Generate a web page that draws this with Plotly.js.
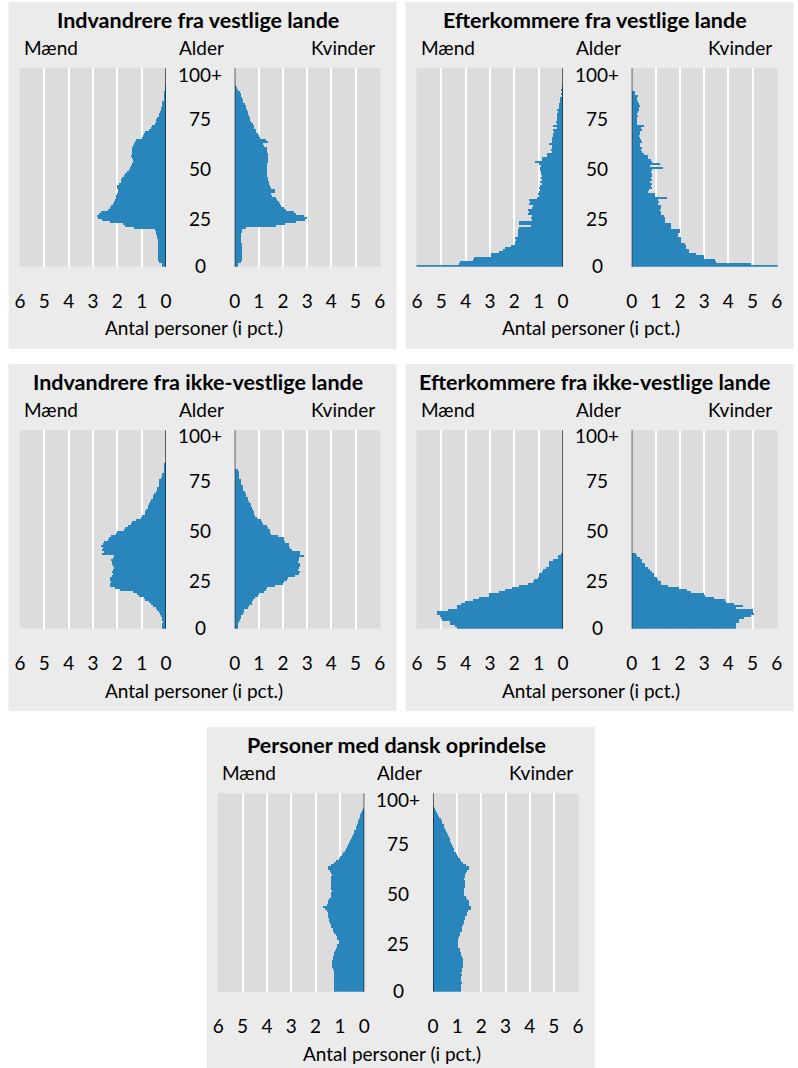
<!DOCTYPE html>
<html><head><meta charset="utf-8">
<script src="https://cdn.plot.ly/plotly-3.0.1.min.js"></script>
<style>html,body{margin:0;padding:0;background:#fff}#chart{width:798px;height:1068px}</style>
</head><body><div id="chart"></div>
<script>
// ---------- text ----------
const panelTitles = [
  "Indvandrere fra vestlige lande",
  "Efterkommere fra vestlige lande",
  "Indvandrere fra ikke-vestlige lande",
  "Efterkommere fra ikke-vestlige lande",
  "Personer med dansk oprindelse"
];
const menLabel = "Mænd", womenLabel = "Kvinder", ageLabel = "Alder";
const axisTitle = "Antal personer (i pct.)";
const ageTickText = ["0", "25", "50", "75", "100+"];
const ageTickVals = [0, 23.7, 48.7, 73.7, 95.85];
const xTickVals = [0, 1, 2, 3, 4, 5, 6];
const xTickText = ["0", "1", "2", "3", "4", "5", "6"];

// ---------- data: share of persons (pct.) by age 0..100 ----------
const indVestMen = [0.16,0.15,0.30,0.32,0.33,0.33,0.34,0.33,0.34,0.33,0.34,0.33,0.34,0.33,0.35,0.38,0.40,0.42,0.45,1.30,
  1.70,1.75,2.30,2.62,2.80,2.82,2.75,2.66,2.40,2.32,2.26,2.18,2.12,2.08,2.05,2.07,2.00,1.98,1.97,2.02,
  2.03,1.92,1.86,1.84,1.80,1.72,1.70,1.60,1.52,1.46,1.42,1.38,1.34,1.35,1.40,1.42,1.40,1.38,1.41,1.38,
  1.36,1.30,1.28,1.22,1.00,0.96,0.90,0.85,0.70,0.60,0.56,0.46,0.42,0.40,0.37,0.30,0.28,0.25,0.22,0.20,
  0.18,0.16,0.15,0.10,0.09,0.08,0.08,0.07,0.06,0.04,0.03];
const indVestWomen = [0.12,0.15,0.28,0.30,0.32,0.31,0.32,0.31,0.30,0.31,0.30,0.29,0.28,0.27,0.26,0.26,0.27,0.29,0.32,0.45,
  1.70,2.10,2.55,2.90,3.00,2.85,2.52,2.45,2.12,2.02,1.93,1.88,1.85,1.75,1.70,1.55,1.50,1.68,1.65,1.50,
  1.45,1.42,1.40,1.39,1.38,1.35,1.33,1.32,1.34,1.33,1.35,1.34,1.36,1.38,1.39,1.37,1.36,1.35,1.34,1.32,
  1.20,1.18,1.36,1.30,1.05,1.00,0.98,0.90,0.88,0.80,0.78,0.75,0.68,0.65,0.62,0.58,0.56,0.54,0.52,0.48,
  0.45,0.42,0.36,0.34,0.32,0.28,0.25,0.20,0.15,0.10,0.05];
const eftVestMen = [6.15,4.27,4.25,3.68,3.65,2.96,2.95,2.63,2.45,2.38,2.14,1.97,1.98,1.95,1.97,1.86,1.85,1.84,1.84,1.82,
  1.30,1.80,1.80,1.29,1.30,1.28,1.42,1.40,1.44,1.26,1.25,1.38,1.36,1.38,1.08,1.00,1.02,0.98,0.95,0.97,
  0.93,0.88,0.95,0.86,0.90,0.88,0.92,0.90,0.96,0.95,0.92,0.98,1.15,0.88,0.88,0.66,0.66,0.47,0.48,0.46,
  0.47,0.58,0.45,0.44,0.46,0.42,0.40,0.38,0.40,0.26,0.40,0.26,0.28,0.25,0.26,0.25,0.25,0.22,0.24,0.16,
  0.17,0.15,0.14,0.13,0.14,0.05,0.08,0.05,0.08,0.06,0.04];
const eftVestWomen = [6.16,4.93,3.49,3.45,3.01,2.98,2.67,2.36,2.35,2.26,2.25,2.19,2.05,2.04,2.05,1.92,1.92,1.99,1.98,1.64,
  1.63,1.62,1.37,1.36,1.38,1.35,1.20,1.22,1.18,1.23,1.22,1.10,1.12,1.08,1.48,0.96,0.95,0.68,0.70,0.82,
  0.80,0.82,0.75,0.82,0.80,0.82,0.84,0.80,0.82,1.30,0.75,1.16,0.82,0.80,0.68,0.66,0.50,0.44,0.40,0.44,
  0.34,0.36,0.44,0.40,0.34,0.30,0.36,0.34,0.41,0.40,0.49,0.20,0.22,0.20,0.21,0.27,0.20,0.28,0.30,0.32,
  0.34,0.32,0.25,0.22,0.20,0.25,0.15,0.14];
const indIkkeMen = [0.15,0.18,0.15,0.14,0.15,0.16,0.22,0.25,0.28,0.36,0.40,0.55,0.62,0.68,0.85,0.92,1.10,1.18,1.35,1.90,
  2.10,2.30,2.32,2.28,2.30,2.31,2.22,2.18,2.20,2.16,2.12,2.18,2.20,2.22,2.24,2.16,2.14,2.62,2.55,2.64,
  2.60,2.66,2.58,2.56,2.40,2.35,2.26,2.05,2.00,1.72,1.70,1.58,1.42,1.40,1.25,1.02,0.98,0.88,0.86,0.84,
  0.75,0.73,0.71,0.64,0.60,0.54,0.52,0.50,0.40,0.38,0.36,0.30,0.29,0.28,0.27,0.19,0.18,0.17,0.10,0.09,
  0.08,0.08,0.07];
const indIkkeWomen = [0.14,0.14,0.15,0.16,0.22,0.25,0.27,0.35,0.38,0.40,0.55,0.60,0.70,0.73,0.75,0.86,0.98,1.02,1.22,1.28,
  1.35,1.68,2.00,2.05,2.18,2.22,2.48,2.66,2.70,2.62,2.66,2.70,2.72,2.62,2.65,2.64,2.88,2.72,2.70,2.38,
  2.30,2.26,2.24,2.08,2.06,2.04,1.80,1.50,1.48,1.46,1.36,1.33,1.18,1.14,1.10,0.94,0.82,0.80,0.78,0.76,
  0.70,0.68,0.66,0.58,0.56,0.54,0.46,0.45,0.44,0.35,0.34,0.33,0.26,0.25,0.24,0.19,0.18,0.17,0.16,0.15];
const eftIkkeMen = [4.34,4.44,4.64,4.66,4.99,5.00,5.05,5.16,5.18,4.74,4.37,4.36,4.19,4.03,3.68,3.45,3.05,3.03,2.62,2.38,
  2.11,1.81,1.45,1.22,1.20,1.04,0.99,0.98,0.85,0.84,0.71,0.58,0.57,0.56,0.40,0.22,0.20,0.08];
const eftIkkeWomen = [4.32,4.32,4.33,4.45,4.45,4.66,4.93,5.07,5.00,5.00,4.32,4.59,4.25,3.90,3.84,3.42,3.02,3.00,2.47,2.30,
  1.95,1.51,1.23,1.22,1.10,1.03,0.93,0.92,0.82,0.75,0.66,0.55,0.54,0.44,0.43,0.34,0.20,0.19];
const danskMen = [1.24,1.24,1.23,1.24,1.25,1.24,1.23,1.24,1.25,1.26,1.25,1.27,1.32,1.33,1.32,1.33,1.30,1.27,1.25,1.24,
  1.22,1.16,1.14,1.12,1.05,1.03,1.12,1.14,1.16,1.25,1.28,1.30,1.36,1.38,1.40,1.45,1.47,1.50,1.48,1.50,
  1.52,1.62,1.68,1.55,1.50,1.48,1.45,1.38,1.36,1.35,1.34,1.35,1.37,1.38,1.38,1.36,1.35,1.35,1.34,1.36,
  1.40,1.48,1.50,1.38,1.25,1.18,1.05,0.98,0.92,0.88,0.80,0.76,0.72,0.68,0.64,0.60,0.56,0.52,0.47,0.44,
  0.41,0.36,0.33,0.30,0.26,0.24,0.21,0.18,0.16,0.12,0.08,0.05];
const danskWomen = [1.17,1.17,1.16,1.17,1.18,1.17,1.16,1.17,1.18,1.17,1.18,1.22,1.25,1.26,1.25,1.26,1.24,1.20,1.17,1.15,
  1.12,1.10,1.04,1.02,1.03,1.02,1.04,1.08,1.11,1.12,1.18,1.21,1.22,1.26,1.28,1.29,1.31,1.33,1.40,1.42,
  1.45,1.56,1.58,1.50,1.48,1.47,1.40,1.38,1.28,1.28,1.29,1.30,1.31,1.31,1.32,1.31,1.30,1.31,1.32,1.38,
  1.40,1.48,1.50,1.36,1.25,1.17,1.12,1.02,1.00,0.95,0.88,0.86,0.84,0.80,0.76,0.72,0.69,0.66,0.60,0.58,
  0.55,0.50,0.47,0.44,0.38,0.36,0.32,0.26,0.22,0.18,0.14,0.10,0.05];

const menSeries = [indVestMen, eftVestMen, indIkkeMen, eftIkkeMen, danskMen];
const womenSeries = [indVestWomen, eftVestWomen, indIkkeWomen, eftIkkeWomen, danskWomen];

// ---------- layout geometry (pixels) ----------
const W = 798, H = 1068;
const FONT = 'Lato, "Open Sans", sans-serif';
const BAR = '#2886bc';
const offsets = [[0, 0], [397, 0], [0, 362], [397, 362], [198.3, 725]];
const px = v => v / W, py = v => 1 - v / H;

const data = [];
const layout = {
  width: W, height: H,
  margin: {l: 0, r: 0, t: 0, b: 0},
  paper_bgcolor: '#ffffff', plot_bgcolor: 'rgba(0,0,0,0)',
  showlegend: false, bargap: 0,
  font: {family: FONT, size: 19, color: '#000'},
  shapes: [], annotations: []
};

offsets.forEach(([ox, oy], p) => {
  const iM = 2 * p + 1, iW = 2 * p + 2;
  const sfx = i => (i === 1 ? '' : String(i));
  const yDom = [py(266.7 + oy), py(68.3 + oy)];
  const menDom = [px(19.5 + ox), px(166 + ox)];
  const womenDom = [px(234.7 + ox), px(380.7 + ox)];
  // panel background
  layout.shapes.push({type: 'rect', xref: 'paper', yref: 'paper', layer: 'below',
    x0: px(8.5 + ox), x1: px(396.5 + ox), y0: py(Math.min(349 + oy, H)), y1: py(2 + oy),
    fillcolor: '#ebebeb', line: {width: 0}});
  // plot-area backgrounds
  [menDom, womenDom].forEach(d => layout.shapes.push({type: 'rect', xref: 'paper', yref: 'paper',
    layer: 'below', x0: d[0], x1: d[1], y0: yDom[0], y1: yDom[1], fillcolor: '#dcdcdc', line: {width: 0}}));
  const xCommon = {
    tickvals: xTickVals, ticktext: xTickText, showgrid: true, gridcolor: '#ffffff', gridwidth: 2,
    zeroline: false, showline: false, ticks: 'outside', ticklen: 17, tickcolor: 'rgba(0,0,0,0)',
    tickfont: {family: FONT, size: 19, color: '#000'}, fixedrange: true
  };
  layout['xaxis' + sfx(iM)] = Object.assign({}, xCommon, {domain: menDom, range: [6.02, 0], anchor: 'y' + sfx(iM)});
  layout['xaxis' + sfx(iW)] = Object.assign({}, xCommon, {domain: womenDom, range: [0, 6.04], anchor: 'y' + sfx(iW)});
  [iM, iW].forEach(i => {
    layout['yaxis' + sfx(i)] = {domain: yDom, range: [-0.5, 98.7], anchor: 'x' + sfx(i),
      showticklabels: false, showgrid: false, zeroline: false, ticks: '', fixedrange: true};
    layout.shapes.push({type: 'line', xref: 'x' + sfx(i), yref: 'y' + sfx(i) + ' domain',
      x0: 0, x1: 0, y0: 0, y1: 1, line: {color: '#1a1a1a', width: 1.3}, layer: 'above'});
  });
  const ages = arr => arr.map((_, a) => a);
  data.push({type: 'bar', orientation: 'h', x: menSeries[p], y: ages(menSeries[p]),
    xaxis: 'x' + sfx(iM), yaxis: 'y' + sfx(iM), marker: {color: BAR, line: {width: 0}},
    hoverinfo: 'skip', cliponaxis: false});
  data.push({type: 'bar', orientation: 'h', x: womenSeries[p], y: ages(womenSeries[p]),
    xaxis: 'x' + sfx(iW), yaxis: 'y' + sfx(iW), marker: {color: BAR, line: {width: 0}},
    hoverinfo: 'skip', cliponaxis: false});

  const ann = (text, x, y, xanchor, extra) => layout.annotations.push(Object.assign({
    text, x: px(x + ox), y: py(y + oy), xref: 'paper', yref: 'paper', xanchor, yanchor: 'middle',
    showarrow: false, font: {family: FONT, size: 19, color: '#000'}}, extra || {}));
  ann('<b>' + panelTitles[p] + '</b>', 198, 20, 'center', {font: {family: FONT, size: 21.5, color: '#000'}});
  ann(menLabel, 22, 47, 'left');
  ann(ageLabel, 201, 47, 'center');
  ann(womenLabel, 376.5, 47, 'right');
  ann(axisTitle, 194, 328, 'center');
  ageTickText.forEach((t, k) => layout.annotations.push({
    text: t, x: px(200 + ox), xref: 'paper', y: ageTickVals[k], yref: 'y' + sfx(iW),
    xanchor: 'center', yanchor: 'middle', showarrow: false,
    font: {family: FONT, size: 19, color: '#000'}}));
});

Plotly.newPlot('chart', data, layout, {staticPlot: true, displayModeBar: false});
</script>
</body></html>
